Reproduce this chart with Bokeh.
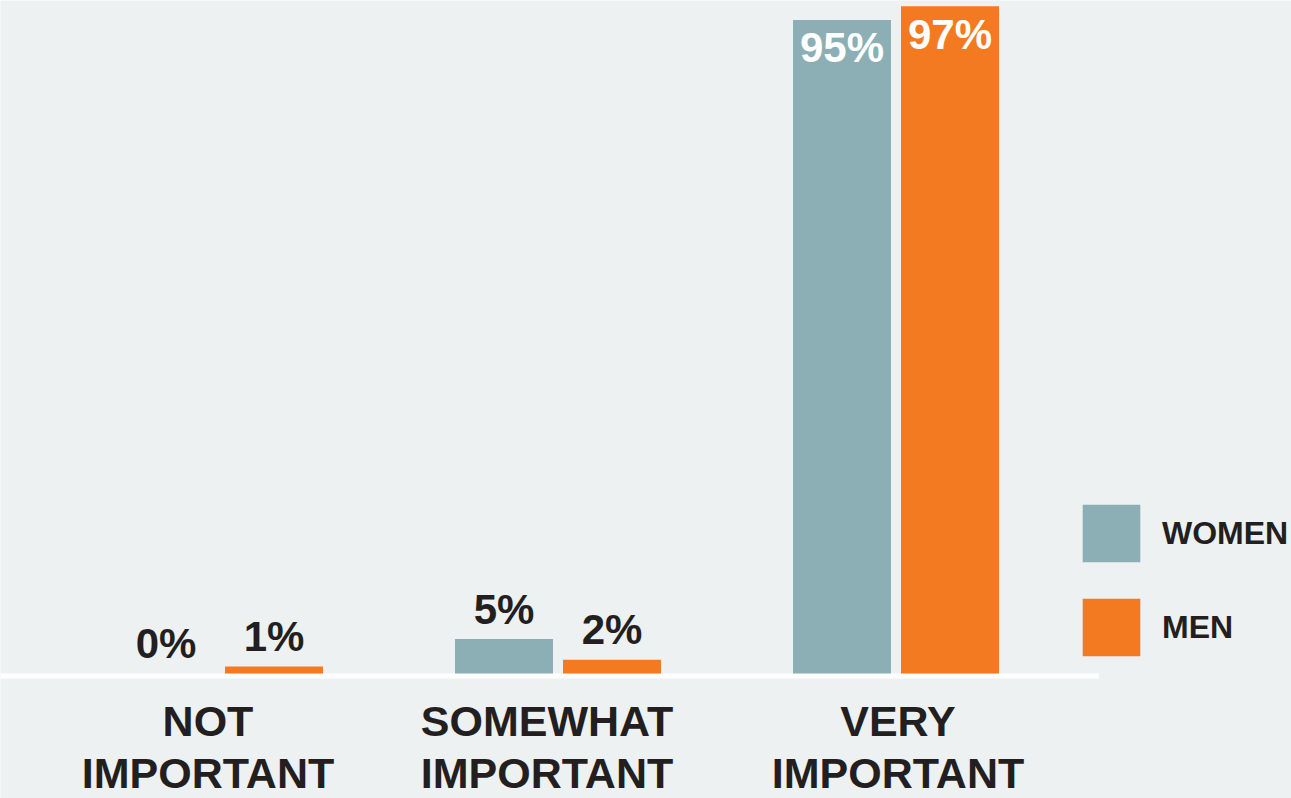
from bokeh.plotting import figure
from bokeh.models import ColumnDataSource, Range1d, Legend, LegendItem
from bokeh.core.properties import value
from bokeh.embed import file_html
from bokeh.resources import INLINE

# ---- data ----
categories = ["NOT\nIMPORTANT", "SOMEWHAT\nIMPORTANT", "VERY\nIMPORTANT"]
women = [0, 5, 95]
men = [1, 2, 97]
series_names = ["WOMEN", "MEN"]

# ---- style ----
BG = "#EDF1F2"
WOMEN_C = "#8CAFB5"
MEN_C = "#F47A22"
INK = "#231F20"
FONT = "Liberation Sans"
LABEL_NUDGE_PX = [-12, -11, 2]   # small horizontal nudges of the category labels

W, H = 1291, 798
PX_PER_UNIT = 338.0     # pixels between group centres
PX_PER_PCT = 6.88       # pixels per percentage point
FIRST_GROUP_PX = 219.5  # x pixel of first group centre
BASE_PX = 673.0         # y pixel (from top) of the zero line

x_start = -FIRST_GROUP_PX / PX_PER_UNIT
x_end = x_start + W / PX_PER_UNIT
y_end = BASE_PX / PX_PER_PCT
y_start = y_end - H / PX_PER_PCT

idx = list(range(len(categories)))
off = 54.0 / PX_PER_UNIT
bw = 98.0 / PX_PER_UNIT

p = figure(width=W, height=H, output_backend="svg", toolbar_location=None,
           x_range=Range1d(x_start, x_end), y_range=Range1d(y_start, y_end),
           x_axis_type=None, y_axis_type=None, min_border=0)
p.background_fill_color = BG
p.border_fill_color = BG
p.outline_line_color = None
p.grid.visible = False

# baseline (white)
p.quad(left=[x_start], right=[idx[-1] + 0.6], top=[0], bottom=[-5.0 / PX_PER_PCT],
       fill_color="white", line_color=None)

src_w = ColumnDataSource(dict(x=[i - off for i in idx], top=women))
src_m = ColumnDataSource(dict(x=[i + off for i in idx], top=men))

r_w = p.vbar(x="x", top="top", bottom=0, width=bw, source=src_w,
             fill_color=WOMEN_C, line_color=None)
r_m = p.vbar(x="x", top="top", bottom=0, width=bw, source=src_m,
             fill_color=MEN_C, line_color=None)

# value labels
for xs, vals in (([i - off for i in idx], women), ([i + off for i in idx], men)):
    out_x = [x for x, v in zip(xs, vals) if v < 50]
    out_v = [v for v in vals if v < 50]
    in_x = [x for x, v in zip(xs, vals) if v >= 50]
    in_v = [v for v in vals if v >= 50]
    p.text(x=out_x, y=out_v, text=[f"{v}%" for v in out_v], y_offset=-30,
           text_align="center", text_baseline="alphabetic",
           text_font=value(FONT), text_font_style="bold", text_font_size="42px",
           text_color=INK)
    p.text(x=in_x, y=in_v, text=[f"{v}%" for v in in_v], y_offset=28,
           text_align="center", text_baseline="alphabetic",
           text_font=value(FONT), text_font_style="bold", text_font_size="42px",
           text_color="white")

# category labels
p.text(x=idx, y=[0] * len(idx), text=categories, y_offset=23,
       x_offset=LABEL_NUDGE_PX,
       text_align="center", text_baseline="top", text_line_height=1.10,
       text_font=value(FONT), text_font_style="bold", text_font_size="43px",
       text_color=INK)

legend = Legend(items=[LegendItem(label=series_names[0], renderers=[r_w]),
                       LegendItem(label=series_names[1], renderers=[r_m])],
                location=(1075, 135), glyph_width=72, glyph_height=72,
                label_height=72, spacing=22, label_standoff=15,
                padding=0, margin=0, border_line_color=None,
                background_fill_alpha=0,
                label_text_font=FONT, label_text_font_style="bold",
                label_text_font_size="32px", label_text_color=INK)
p.add_layout(legend)

open("out.html", "w").write(file_html(p, INLINE))
